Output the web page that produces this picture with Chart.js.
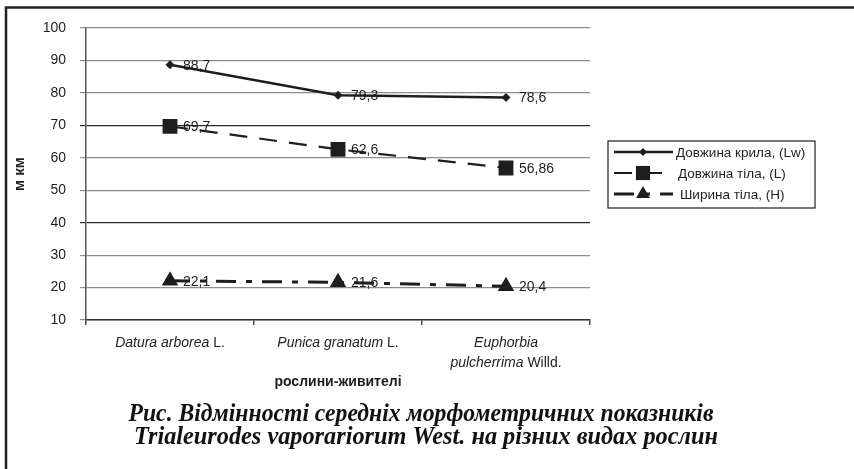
<!DOCTYPE html>
<html>
<head>
<meta charset="utf-8">
<script src="https://cdn.jsdelivr.net/npm/chart.js@4.4.1/dist/chart.umd.min.js"></script>
<style>
  html, body { margin: 0; padding: 0; background: #fff; }
  #wrap { width: 854px; height: 469px; }
</style>
</head>
<body>
<div id="wrap"><canvas id="chart" width="854" height="469"></canvas></div>
<script>
// host plants (x categories)
const hosts = ['Datura arborea L.', 'Punica granatum L.', 'Euphorbia pulcherrima Willd.'];
// how each category label is printed: lines of [text, italic?] pieces
const hostLabelLines = [
    [[['Datura arborea', true], [' L.', false]]],
    [[['Punica granatum', true], [' L.', false]]],
    [[['Euphorbia', true]], [['pulcherrima', true], [' Willd.', false]]]
];

const seriesNames = ['Довжина крила, (Lw)', 'Довжина тіла, (L)', 'Ширина тіла, (H)'];
const wingLength = [88.7, 79.3, 78.6];
const bodyLength = [69.7, 62.6, 56.86];
const bodyWidth = [22.1, 21.6, 20.4];

const yMin = 10;
const yMax = 100;
const yStep = 10;
const darkGridValues = [40, 70];

const yTitle = 'м км';
const xTitle = 'рослини-живителі';
const caption = [
    'Рис. Відмінності середніх морфометричних показників',
    'Trialeurodes vaporariorum West. на різних видах рослин'
];

const SANS = '"Liberation Sans", Arial, sans-serif';
const INK = '#1e1e1e';

const fmt = v => String(v).replace('.', ',');

function marker(ctx, style, x, y, r) {
    ctx.save();
    ctx.fillStyle = INK;
    ctx.setLineDash([]);
    ctx.beginPath();
    if (style === 'rectRot') {
        ctx.moveTo(x, y - r); ctx.lineTo(x + r, y); ctx.lineTo(x, y + r); ctx.lineTo(x - r, y);
    } else if (style === 'rect') {
        const s = r * Math.SQRT1_2;
        ctx.rect(x - s, y - s, 2 * s, 2 * s);
    } else {
        const h = r * Math.sqrt(3) / 2;
        ctx.moveTo(x, y - r); ctx.lineTo(x + h, y + r / 2); ctx.lineTo(x - h, y + r / 2);
    }
    ctx.closePath();
    ctx.fill();
    ctx.restore();
}

const extras = {
    id: 'extras',
    beforeDraw(chart) {
        const ctx = chart.ctx;
        ctx.save();
        ctx.fillStyle = '#fff';
        ctx.fillRect(0, 0, chart.width, chart.height);
        ctx.restore();
    },
    afterDatasetsDraw(chart) {
        // value labels to the right of each point
        const ctx = chart.ctx;
        ctx.save();
        ctx.font = '14px ' + SANS;
        ctx.fillStyle = INK;
        ctx.textBaseline = 'middle';
        ctx.textAlign = 'left';
        chart.data.datasets.forEach((ds, i) => {
            chart.getDatasetMeta(i).data.forEach((pt, j) => {
                ctx.fillText(fmt(ds.data[j]), pt.x + 13, pt.y + 1);
            });
        });
        ctx.restore();
    },
    afterDraw(chart) {
        const ctx = chart.ctx;
        const xs = chart.scales.x;
        ctx.save();

        // category labels with italic species names
        ctx.fillStyle = INK;
        ctx.textBaseline = 'middle';
        hostLabelLines.forEach((lines, i) => {
            const cx = xs.getPixelForTick(i);
            lines.forEach((pieces, k) => {
                const widths = pieces.map(([t, it]) => {
                    ctx.font = (it ? 'italic ' : '') + '14px ' + SANS;
                    return ctx.measureText(t).width;
                });
                let x = cx - widths.reduce((a, b) => a + b, 0) / 2;
                pieces.forEach(([t, it], n) => {
                    ctx.font = (it ? 'italic ' : '') + '14px ' + SANS;
                    ctx.textAlign = 'left';
                    ctx.fillText(t, x, 343 + k * 20);
                    x += widths[n];
                });
            });
        });

        // legend
        const lx = 608, ly = 141, lw = 207, lh = 67;
        ctx.lineWidth = 1.2;
        ctx.strokeStyle = INK;
        ctx.strokeRect(lx, ly, lw, lh);
        const rows = [152, 173, 194];
        const legendR = [4, 10, 8];
        chart.data.datasets.forEach((ds, i) => {
            const y = rows[i];
            ctx.save();
            ctx.strokeStyle = INK;
            ctx.lineWidth = ds.borderWidth;
            ctx.setLineDash(ds.borderDash || []);
            ctx.beginPath();
            ctx.moveTo(614, y);
            ctx.lineTo(673, y);
            ctx.stroke();
            ctx.restore();
            marker(ctx, ds.pointStyle, 643, y, legendR[i]);
            ctx.font = '13.5px ' + SANS;
            ctx.textAlign = 'left';
            ctx.fillStyle = INK;
            ctx.fillText(ds.label, 676 + i * 2, y + 1);
        });

        // outer frame (top and left edges)
        ctx.strokeStyle = '#222';
        ctx.lineWidth = 2.5;
        ctx.setLineDash([]);
        ctx.beginPath();
        ctx.moveTo(854, 7.5);
        ctx.lineTo(6, 7.5);
        ctx.lineTo(6, 469);
        ctx.stroke();

        // figure caption (condensed bold italic serif)
        ctx.fillStyle = '#111';
        ctx.textAlign = 'center';
        ctx.font = 'italic bold 25px "Liberation Serif", "Times New Roman", serif';
        const capWidths = [585, 584];
        const capX = [421, 426];
        const capY = [415, 438];
        caption.forEach((line, k) => {
            const w = ctx.measureText(line).width;
            ctx.save();
            ctx.translate(capX[k], capY[k]);
            ctx.scale(capWidths[k] / w, 1);
            ctx.fillText(line, 0, 0);
            ctx.restore();
        });

        ctx.restore();
    }
};

const ctx = document.getElementById('chart').getContext('2d');
const chart = new Chart(ctx, {
    type: 'line',
    data: {
        labels: hosts,
        datasets: [{
            label: seriesNames[0],
            data: wingLength,
            borderColor: INK,
            backgroundColor: INK,
            borderWidth: 2.5,
            pointStyle: 'rectRot',
            pointRadius: 4.5,
            pointBorderWidth: 0,
            fill: false,
            tension: 0
        }, {
            label: seriesNames[1],
            data: bodyLength,
            borderColor: INK,
            backgroundColor: INK,
            borderWidth: 2.2,
            borderDash: [18, 12],
            pointStyle: 'rect',
            pointRadius: 10.5,
            pointBorderWidth: 0,
            fill: false,
            tension: 0
        }, {
            label: seriesNames[2],
            data: bodyWidth,
            borderColor: INK,
            backgroundColor: INK,
            borderWidth: 3,
            borderDash: [20, 10, 6, 10],
            pointStyle: 'triangle',
            pointRadius: 9.5,
            pointBorderWidth: 0,
            fill: false,
            tension: 0
        }]
    },
    options: {
        responsive: false,
        animation: false,
        events: [],
        layout: {
            padding: { left: 0, top: 28, right: 264, bottom: 74 }
        },
        plugins: {
            legend: { display: false },
            tooltip: { enabled: false }
        },
        scales: {
            x: {
                offset: true,
                afterFit: s => { s.height = 75; },
                border: { display: true, color: '#333', width: 1.5 },
                grid: {
                    offset: true,
                    drawOnChartArea: true,
                    drawTicks: true,
                    tickLength: 5,
                    color: c => c.index === hosts.length ? '#9a9a9a' : 'rgba(0,0,0,0)',
                    tickColor: '#444',
                    lineWidth: 1.5
                },
                ticks: { display: false },
                title: {
                    display: true,
                    text: xTitle,
                    color: INK,
                    font: { family: SANS, size: 14, weight: 'bold' },
                    padding: { top: 0, bottom: 4 }
                }
            },
            y: {
                min: yMin,
                max: yMax,
                afterFit: s => { s.width = 86; },
                border: { display: true, color: '#555', width: 1.5 },
                grid: {
                    color: c => darkGridValues.includes(c.tick && c.tick.value) ? '#2a2a2a' : '#8c8c8c',
                    tickColor: c => darkGridValues.includes(c.tick && c.tick.value) ? '#2a2a2a' : '#8c8c8c',
                    lineWidth: 1.2,
                    drawTicks: true,
                    tickLength: 6
                },
                ticks: {
                    stepSize: yStep,
                    padding: 14,
                    color: INK,
                    font: { family: SANS, size: 14 }
                },
                title: {
                    display: true,
                    text: yTitle,
                    color: INK,
                    font: { family: SANS, size: 15, weight: 'bold' },
                    padding: { top: 11, bottom: 0 }
                }
            }
        }
    },
    plugins: [extras]
});
</script>
</body>
</html>
